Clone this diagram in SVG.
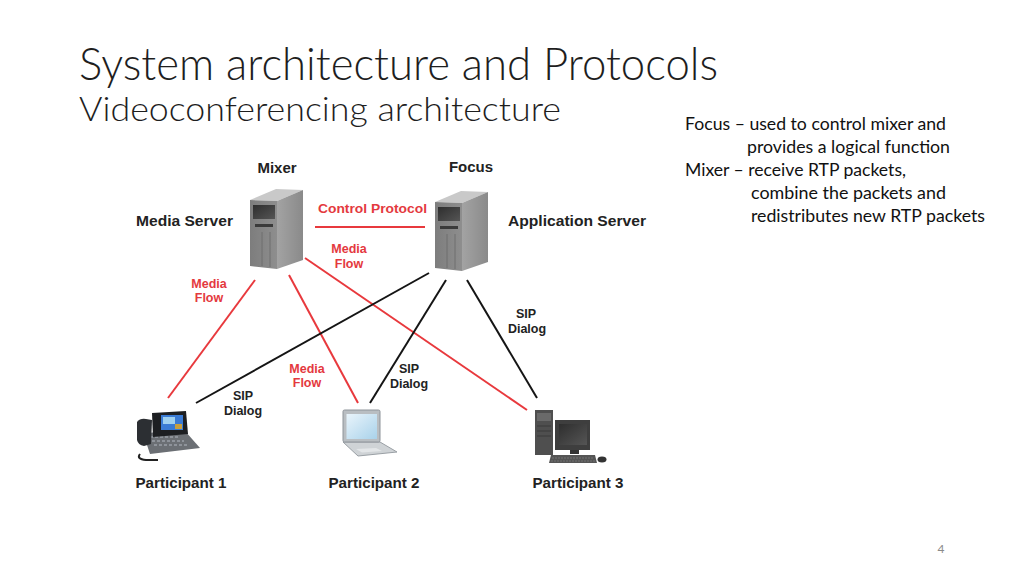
<svg xmlns="http://www.w3.org/2000/svg" xmlns:xlink="http://www.w3.org/1999/xlink" width="1024" height="576" viewBox="0 0 1024 576">
<style>
.title{font-family:Lato,"Open Sans","Liberation Sans",sans-serif;font-weight:300;fill:#1e1e1e}
.note{font-family:Lato,"Open Sans","Liberation Sans",sans-serif;font-size:16.5px;fill:#111}
.lbl{font-family:"Liberation Sans",Arial,sans-serif;font-weight:bold;fill:#222}
.big{font-size:15px}
.red{fill:#e4393e}
.small{font-size:12.5px}
.rl{stroke:#e8393d;stroke-width:2;fill:none}
.bl{stroke:#151515;stroke-width:2;fill:none}
</style>
<defs>
<linearGradient id="gFront" x1="0" y1="0" x2="1" y2="0">
<stop offset="0" stop-color="#7d7d7d"/><stop offset="1" stop-color="#8e8e8e"/>
</linearGradient>
<linearGradient id="gSide" x1="0" y1="0" x2="1" y2="0">
<stop offset="0" stop-color="#a3a3a3"/><stop offset="1" stop-color="#8a8a8a"/>
</linearGradient>
<linearGradient id="gScreen" x1="0" y1="0" x2="1" y2="1">
<stop offset="0" stop-color="#2e2e2e"/><stop offset="1" stop-color="#555"/>
</linearGradient>
<linearGradient id="gBlue" x1="0" y1="0" x2="1" y2="1">
<stop offset="0" stop-color="#e9f4fb"/><stop offset="1" stop-color="#a9d2ea"/>
</linearGradient>
<g id="tower">
<polygon points="250,200 277,201 303,190 276,189" fill="#c9c9c9"/>
<polygon points="277,201 303,190 303,260 277,269" fill="url(#gSide)"/>
<polygon points="250,200 277,201 277,269 250,266" fill="url(#gFront)"/>
<rect x="253" y="205" width="22" height="14" fill="url(#gScreen)"/>
<rect x="255" y="224" width="18" height="3" fill="#3a3a3a"/>
<path d="M262,232 V266 M270,232 V267" stroke="#6e6e6e" stroke-width="1"/>
</g>
</defs>
<rect width="1024" height="576" fill="#fff"/>

<text class="title" x="79" y="80" font-size="46" textLength="639" lengthAdjust="spacingAndGlyphs">System architecture and Protocols</text>
<text class="title" x="79" y="121" font-size="33" textLength="482" lengthAdjust="spacingAndGlyphs">Videoconferencing architecture</text>

<g id="notes">
<text class="note" x="685" y="130" textLength="261" lengthAdjust="spacingAndGlyphs">Focus – used to control mixer and</text>
<text class="note" x="747" y="153" textLength="203" lengthAdjust="spacingAndGlyphs">provides a logical function</text>
<text class="note" x="685" y="176" textLength="221" lengthAdjust="spacingAndGlyphs">Mixer – receive RTP packets,</text>
<text class="note" x="751" y="199" textLength="195" lengthAdjust="spacingAndGlyphs">combine the packets and</text>
<text class="note" x="751" y="222" textLength="234" lengthAdjust="spacingAndGlyphs">redistributes new RTP packets</text>
</g>

<g id="connectors">
<line class="rl" x1="315" y1="227" x2="425" y2="227"/>
<line class="rl" x1="255" y1="280" x2="168" y2="398"/>
<line class="rl" x1="289" y1="275" x2="358" y2="403"/>
<line class="rl" x1="305" y1="258" x2="527" y2="410"/>
<line class="bl" x1="429" y1="273" x2="196" y2="403"/>
<line class="bl" x1="446" y1="280" x2="370" y2="403"/>
<line class="bl" x1="467" y1="280" x2="537" y2="398"/>
<text class="lbl red" x="318" y="213" font-size="13" textLength="109" lengthAdjust="spacingAndGlyphs">Control Protocol</text>
<g class="lbl red small" text-anchor="middle">
<text x="349" y="253">Media</text><text x="349" y="268">Flow</text>
<text x="209" y="288">Media</text><text x="209" y="302">Flow</text>
<text x="307" y="373">Media</text><text x="307" y="387">Flow</text>
</g>
<g class="lbl small" text-anchor="middle">
<text x="526" y="318">SIP</text><text x="527" y="333">Dialog</text>
<text x="243" y="400">SIP</text><text x="243" y="415">Dialog</text>
<text x="409" y="373">SIP</text><text x="409" y="388">Dialog</text>
</g>
</g>

<g id="mixer">
<use xlink:href="#tower"/>
<text class="lbl big" x="277" y="173" text-anchor="middle">Mixer</text>
<text class="lbl big" x="136" y="226" textLength="97" lengthAdjust="spacingAndGlyphs">Media Server</text>
</g>

<g id="focus">
<use xlink:href="#tower" transform="translate(185,2)"/>
<text class="lbl big" x="471" y="172" text-anchor="middle">Focus</text>
<text class="lbl big" x="508" y="226" textLength="138" lengthAdjust="spacingAndGlyphs">Application Server</text>
</g>

<g id="participant1">
<path d="M140,454 q-4,5 6,6 h12" stroke="#222" stroke-width="2" fill="none"/>
<polygon points="143,433 185,431 200,448 150,454" fill="#6b6f74"/>
<path d="M150,437 h30 M152,441 h32 M154,445 h33" stroke="#9aa0a6" stroke-width="1.5" stroke-dasharray="3,2"/>
<path d="M137,422 q3,-4 9,-3 l6,1 l-1,24 l-7,2 q-6,-1 -7,-6 z" fill="#2c2f33"/>
<polygon points="152,413 186,411 188,434 153,437" fill="#1d1f22"/>
<rect x="161" y="415" width="22" height="15" fill="#3a7bd5"/>
<rect x="163" y="417" width="12" height="7" fill="#9fd0f0"/>
<rect x="175" y="424" width="7" height="5" fill="#c8a040"/>
<text class="lbl big" x="181" y="488" text-anchor="middle" textLength="91" lengthAdjust="spacingAndGlyphs">Participant 1</text>
</g>

<g id="participant2">
<polygon points="343,442 380,442 397,452 358,456" fill="#cfd3d6" stroke="#9aa0a5" stroke-width="1"/>
<rect x="343" y="410" width="37" height="32" rx="1.5" fill="#b9bec2" stroke="#8e949a" stroke-width="1"/>
<rect x="346.5" y="414" width="30.5" height="25" fill="url(#gBlue)"/>
<path d="M356,449 l20,-1 l6,3 l-20,1.5 z" fill="#e3e6e8"/>
<text class="lbl big" x="374" y="488" text-anchor="middle" textLength="91" lengthAdjust="spacingAndGlyphs">Participant 2</text>
</g>

<g id="participant3">
<rect x="535" y="410" width="18" height="45" fill="#4f4f4f"/>
<rect x="537" y="413" width="14" height="8" fill="#6a6a6a"/>
<path d="M537,426 h14 M537,431 h14 M537,436 h14" stroke="#3a3a3a" stroke-width="1"/>
<rect x="555" y="420" width="35" height="30" fill="#3e3e3e"/>
<rect x="559" y="424" width="28" height="21" fill="url(#gScreen)"/>
<rect x="570" y="450" width="9" height="4" fill="#333"/>
<polygon points="551,455 595,455 597,463 549,463" fill="#555"/>
<path d="M552,458 h42 M551,461 h44" stroke="#7a7a7a" stroke-width="0.8" stroke-dasharray="2,1"/>
<ellipse cx="602" cy="459.5" rx="4.5" ry="3" fill="#333"/>
<text class="lbl big" x="578" y="488" text-anchor="middle" textLength="91" lengthAdjust="spacingAndGlyphs">Participant 3</text>
</g>

<text x="941" y="553" font-family="Lato,'Liberation Sans',sans-serif" font-size="12" fill="#8a8a8a" text-anchor="middle">4</text>
</svg>
